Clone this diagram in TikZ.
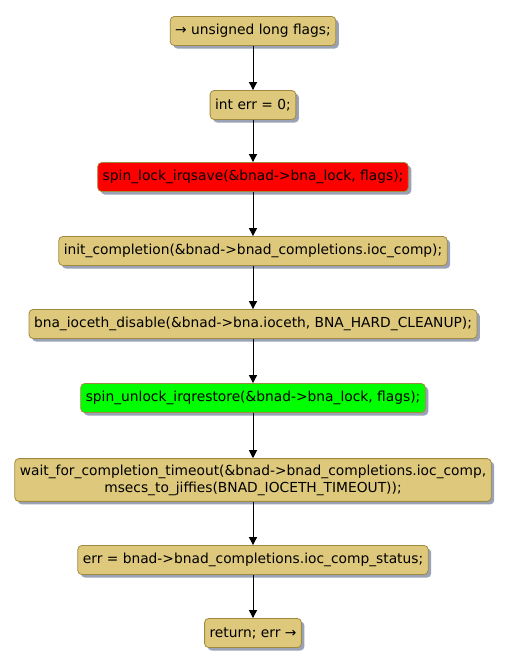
\documentclass[tikz,border=0pt]{standalone}
\usepackage{fontspec}
\setmainfont{DejaVu Sans}
\usetikzlibrary{shadows,arrows.meta}
\definecolor{actfill}{HTML}{DDC87C}
\definecolor{actborder}{HTML}{A08A40}
\definecolor{shadowc}{HTML}{9AA3B5}
\begin{document}
\begin{tikzpicture}[x=1pt,y=-1pt,
  act/.style={draw=actborder, fill=actfill, rounded corners=4pt, line width=0.8pt,
    inner xsep=5pt, inner ysep=6pt, minimum height=29pt, align=center,
    font=\fontsize{13.8}{17}\selectfont,
    drop shadow={shadow xshift=3pt, shadow yshift=-3pt, fill=shadowc, opacity=1}},
  flow/.style={-{Triangle[length=8pt,width=8pt]}, line width=0.9pt, black}]
\useasboundingbox (0,0) rectangle (508,667);
\node[act] (n1) at (253,31) {→ unsigned long flags;};
\node[act] (n2) at (253,105) {int err = 0;};
\node[act, fill=red] (n3) at (253,177) {spin\_lock\_irqsave(\&bnad->bna\_lock, flags);};
\node[act] (n4) at (253,251) {init\_completion(\&bnad->bnad\_completions.ioc\_comp);};
\node[act] (n5) at (253,324) {bna\_ioceth\_disable(\&bnad->bna.ioceth, BNA\_HARD\_CLEANUP);};
\node[act, fill=green] (n6) at (253,398) {spin\_unlock\_irqrestore(\&bnad->bna\_lock, flags);};
\node[act] (n7) at (253,480) {wait\_for\_completion\_timeout(\&bnad->bnad\_completions.ioc\_comp,\\msecs\_to\_jiffies(BNAD\_IOCETH\_TIMEOUT));};
\node[act] (n8) at (253,560) {err = bnad->bnad\_completions.ioc\_comp\_status;};
\node[act] (n9) at (253,633) {return; err →};
\foreach \a/\b in {n1/n2,n2/n3,n3/n4,n4/n5,n5/n6,n6/n7,n7/n8,n8/n9}
  \draw[flow] (\a) -- (\b);
\end{tikzpicture}
\end{document}
